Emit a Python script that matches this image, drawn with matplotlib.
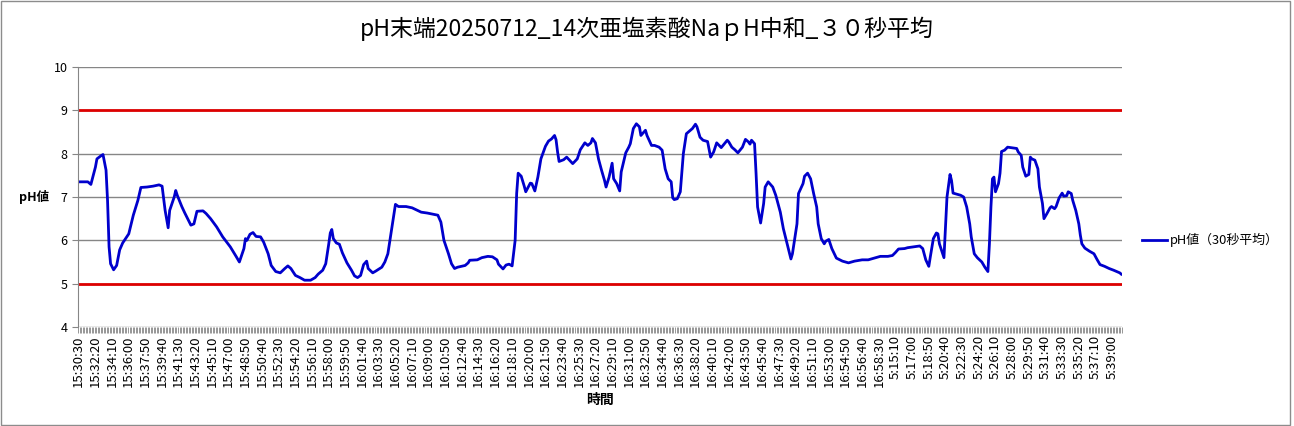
import numpy as np
import matplotlib
matplotlib.use("Agg")
import matplotlib.pyplot as plt
from matplotlib.patches import Rectangle

plt.rcParams['font.family'] = ['Noto Sans CJK JP', 'DejaVu Sans']

# sample number (10 s per sample) and pH reading
sample_no = [0, 6, 8, 11, 12, 15, 16, 18, 19, 20, 21, 23, 25, 27, 29, 33, 36, 39, 41,
             45, 49, 53, 55, 57, 59, 60, 63, 64, 65, 68, 70, 74, 76, 78, 82, 84, 87,
             91, 95, 100, 104, 106, 109, 110, 111, 113,
             115, 117, 120, 122, 125, 127, 130, 133, 136, 138, 140, 143, 146, 149,
             153, 156, 158, 161, 163, 165, 166, 167, 168, 170, 172, 174, 177, 180,
             182, 184, 186, 188, 190, 191, 194, 196, 200, 202, 204, 206, 208, 209,
             211, 216, 220,
             226, 230, 237, 239, 241, 244, 246, 248, 250, 255, 257, 258, 263, 266,
             270, 273, 276, 277, 280, 282, 284, 286, 288, 289, 290, 292, 294, 295,
             298, 299, 301, 303, 305, 308, 310, 312, 314, 315, 316, 317, 320, 322,
             325, 326, 329, 331, 334, 336, 338,
             339, 341, 343, 345, 347, 348, 350, 352, 353, 355, 357, 358, 361, 363,
             364, 366, 368, 370, 371, 373, 374, 375, 378, 380, 383, 385, 387, 389,
             391, 392, 393, 395, 397, 399, 401, 403, 405, 407, 408, 410, 412, 415,
             417, 419, 421, 424, 428, 429, 431, 433, 435, 438, 440, 442, 443, 444,
             446, 447, 448, 450, 452,
             453, 455, 458, 460, 463, 465, 468, 470, 471, 474, 475, 478, 479, 481,
             483, 485, 487, 488, 490, 492, 493, 495, 497, 500, 504, 508, 512, 517,
             521, 526, 529, 534, 537, 539, 541, 545, 547, 551, 555, 557, 559, 561,
             562, 564, 566,
             567, 568, 571, 572, 573, 575, 576, 577, 580, 582, 584, 586, 588, 589,
             591, 593, 596, 598, 600, 601, 602, 603, 604, 605, 607, 608, 609, 611,
             613, 617, 619, 620, 622, 623, 625, 627, 628, 629, 631, 633, 634, 636,
             637, 639, 641, 642, 644, 645, 647, 649, 650, 652, 653, 655, 656, 658,
             660, 661, 662, 664, 667, 670, 672, 674, 677, 680, 683, 687, 688]
ph = [7.35, 7.35, 7.29, 7.69, 7.88, 7.96, 7.98, 7.62, 6.92, 5.85, 5.46, 5.32, 5.42,
      5.78, 5.94, 6.15, 6.58, 6.92, 7.22, 7.23, 7.25, 7.28, 7.25, 6.69, 6.29, 6.69,
      7.0, 7.15, 7.04, 6.78, 6.63, 6.35, 6.38, 6.67, 6.68, 6.62, 6.5, 6.31, 6.08,
      5.85, 5.62, 5.5, 5.81, 6.04, 6.0, 6.14,
      6.18, 6.09, 6.08, 5.96, 5.69, 5.42, 5.28, 5.25, 5.35, 5.41, 5.35, 5.19, 5.14,
      5.08, 5.08, 5.14, 5.22, 5.31, 5.46, 5.92, 6.17, 6.25, 6.04, 5.94, 5.91, 5.71,
      5.48, 5.31, 5.18, 5.14, 5.19, 5.44, 5.52, 5.35, 5.25, 5.29, 5.38, 5.5, 5.69,
      6.15, 6.62, 6.83, 6.78, 6.78, 6.75,
      6.65, 6.63, 6.58, 6.42, 6.0, 5.69, 5.46, 5.35, 5.38, 5.42, 5.48, 5.54, 5.55,
      5.6, 5.63, 5.62, 5.55, 5.45, 5.34, 5.43, 5.45, 5.41, 6.0, 7.08, 7.55, 7.48,
      7.25, 7.12, 7.32, 7.31, 7.14, 7.46, 7.88, 8.17, 8.29, 8.34, 8.42, 8.32, 8.04,
      7.82, 7.86, 7.92, 7.81, 7.77, 7.88, 8.09, 8.25, 8.19, 8.25,
      8.35, 8.25, 7.88, 7.62, 7.38, 7.23, 7.46, 7.78, 7.42, 7.31, 7.14, 7.58, 8.02,
      8.15, 8.23, 8.58, 8.69, 8.62, 8.42, 8.5, 8.54, 8.42, 8.19, 8.19, 8.15, 8.08,
      7.65, 7.42, 7.35, 6.98, 6.94, 6.96, 7.12, 8.0, 8.46, 8.52, 8.58, 8.68, 8.62,
      8.38, 8.31, 8.28, 7.92, 8.04, 8.25, 8.14, 8.31, 8.27, 8.15, 8.09, 8.02, 8.15,
      8.33, 8.27, 8.22, 8.31, 8.23, 7.54, 6.77, 6.4, 6.85,
      7.23, 7.35, 7.23, 7.04, 6.65, 6.27, 5.85, 5.57, 5.69, 6.38, 7.08, 7.31, 7.48,
      7.55, 7.42, 7.08, 6.77, 6.38, 6.04, 5.92, 5.98, 6.02, 5.81, 5.59, 5.52, 5.48,
      5.52, 5.55, 5.55, 5.6, 5.63, 5.63, 5.65, 5.72, 5.8, 5.81, 5.83, 5.85, 5.87,
      5.81, 5.55, 5.4, 5.62, 6.04, 6.17,
      6.15, 5.92, 5.6, 6.31, 7.0, 7.52, 7.38, 7.09, 7.06, 7.04, 7.0, 6.77, 6.38,
      6.08, 5.69, 5.6, 5.5, 5.38, 5.28, 5.92, 6.77, 7.42, 7.46, 7.12, 7.31, 7.55,
      8.05, 8.08, 8.15, 8.13, 8.12, 8.04, 7.96, 7.69, 7.48, 7.52, 7.92, 7.88, 7.85,
      7.65, 7.23, 6.85, 6.5, 6.62, 6.75, 6.78, 6.73, 6.78, 6.98, 7.09, 7.02, 7.03,
      7.12, 7.08, 6.92, 6.69, 6.38, 6.12, 5.92, 5.82, 5.75, 5.69, 5.56, 5.44, 5.4,
      5.35, 5.31, 5.25, 5.22]
n_samples = 689

# time labels (every 11th sample)
time_labels = ['15:30:30', '15:32:20', '15:34:10', '15:36:00', '15:37:50', '15:39:40',
               '15:41:30', '15:43:20', '15:45:10', '15:47:00', '15:48:50', '15:50:40',
               '15:52:30', '15:54:20', '15:56:10', '15:58:00', '15:59:50', '16:01:40',
               '16:03:30', '16:05:20', '16:07:10', '16:09:00', '16:10:50', '16:12:40',
               '16:14:30', '16:16:20', '16:18:10', '16:20:00', '16:21:50', '16:23:40',
               '16:25:30', '16:27:20', '16:29:10', '16:31:00', '16:32:50', '16:34:40',
               '16:36:30', '16:38:20', '16:40:10', '16:42:00', '16:43:50', '16:45:40',
               '16:47:30', '16:49:20', '16:51:10', '16:53:00', '16:54:50', '16:56:40',
               '16:58:30', '5:15:10', '5:17:00', '5:18:50', '5:20:40', '5:22:30',
               '5:24:20', '5:26:10', '5:28:00', '5:29:50', '5:31:40', '5:33:30',
               '5:35:20', '5:37:10', '5:39:00']
label_step = 11

upper_limit = 9
lower_limit = 5

fig = plt.figure(figsize=(12.94, 4.26), dpi=100)
fig.patches.append(Rectangle((0.001, 0.002), 0.996, 0.995, transform=fig.transFigure,
                             fill=False, edgecolor='#8c8c8c', linewidth=1))
axis = fig.add_axes([78 / 1294, 99 / 426, 1044 / 1294, 260 / 426])

axis.set_ylim(4, 10)
axis.set_xlim(-0.5, n_samples - 0.5)
axis.set_yticks(np.arange(4, 11, 1))
axis.yaxis.grid(True, color='#868686', linewidth=1)
axis.set_axisbelow(True)

axis.axhline(upper_limit, color='#dd0000', linewidth=2)
axis.axhline(lower_limit, color='#dd0000', linewidth=2)
axis.plot(sample_no, ph, color='#0000cc', linewidth=2, label='pH値（30秒平均）')

for s in ['top', 'right', 'bottom']:
    axis.spines[s].set_visible(False)
axis.spines['left'].set_color('#868686')

ticks = np.arange(0, len(time_labels) * label_step, label_step)
axis.set_xticks(ticks)
axis.set_xticklabels(time_labels, rotation=90, fontsize=9.5)
axis.tick_params(axis='x', length=0, pad=6)
axis.set_xticks(np.arange(-0.5, n_samples, 1), minor=True)
axis.tick_params(axis='x', which='minor', length=4, color='#868686', width=0.6)
axis.tick_params(axis='y', labelsize=9, length=4, color='#868686')

axis.set_xlabel('時間', fontsize=10, fontweight='bold', labelpad=4)
axis.set_ylabel('pH値', fontsize=9, fontweight='bold', rotation=0, labelpad=14, va='center')
fig.suptitle('pH末端20250712_14次亜塩素酸NaｐH中和_３０秒平均', fontsize=16.5, y=0.96)

fig.legend(loc='center left', bbox_to_anchor=(1130 / 1294, 186 / 426), frameon=False,
           fontsize=9.3, handlelength=2.0, handletextpad=0.2)

fig.savefig('out.png', dpi=100)
